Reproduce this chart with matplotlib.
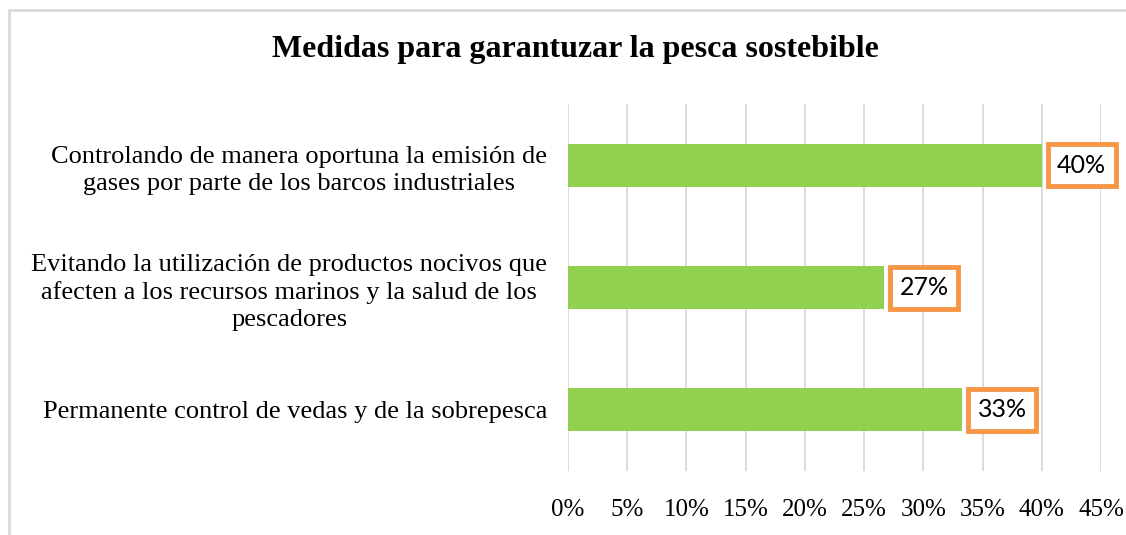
import numpy as np
import matplotlib.pyplot as plt
from matplotlib.patches import Rectangle

categorias = ["Controlando de manera oportuna la emisión de\ngases por parte de los barcos industriales",
              "Evitando la utilización de productos nocivos que\nafecten a los recursos marinos y la salud de los\npescadores",
              "Permanente control de vedas y de la sobrepesca"]
valores = [40.0, 26.7, 33.3]
etiquetas = ["40%", "27%", "33%"]
ticks = np.arange(0, 50, 5)

serif = ["Liberation Serif", "DejaVu Serif"]

fig = plt.figure(figsize=(11.26, 5.35), dpi=100)
# marco gris del grafico
fig.patches.append(Rectangle((9/1126, -0.1), 1.2, 1.1 - 10/535, transform=fig.transFigure,
                             fill=False, edgecolor="#D9D9D9", linewidth=2))

ax = fig.add_axes([568/1126, 1 - 471/535, (1101 - 568)/1126, (471 - 104)/535])
y = np.arange(len(categorias))[::-1]
ax.barh(y, valores, height=0.35, color="#92D050", zorder=3)
ax.set_xlim(0, 45)
ax.set_ylim(-0.5, 2.5)
ax.set_xticks(ticks)
ax.set_xticklabels(["%d%%" % t for t in ticks], fontsize=18, family=serif)
ax.set_yticks(y)
ax.set_yticklabels(categorias, fontsize=19, family=serif, linespacing=1.3,
                   multialignment="center")
ax.tick_params(axis="both", length=0)
ax.tick_params(axis="x", pad=20)
ax.tick_params(axis="y", pad=15)
ax.grid(axis="x", color="#D9D9D9", linewidth=1.3, zorder=0)
for s in ax.spines.values():
    s.set_visible(False)

for yi, v, lab in zip(y, valores, etiquetas):
    ax.text(v + 1.3, yi, lab, va="center", ha="left", fontsize=18,
            family=["Lato", "DejaVu Sans"], zorder=4,
            bbox=dict(boxstyle="square,pad=0.38", facecolor="white",
                      edgecolor="#F79646", linewidth=3.5))

fig.text(575/1126, 1 - 50/535, "Medidas para garantuzar la pesca sostebible", ha="center",
         va="center", fontsize=23, fontweight="bold", family=serif)

fig.savefig("out.png", dpi=100)
